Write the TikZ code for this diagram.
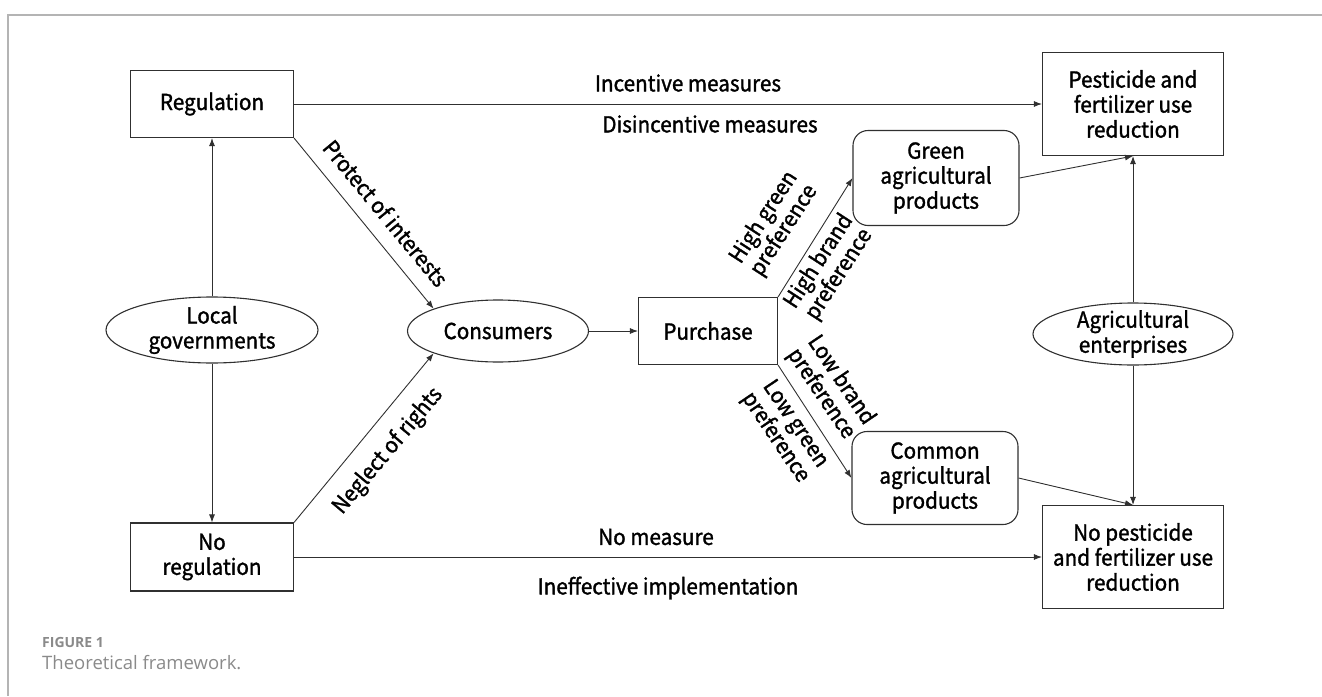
\documentclass[tikz,border=0pt]{standalone}
\usepackage{fontspec}
\setmainfont{Noto Sans CJK SC}[FakeBold=1.4, FakeStretch=0.94]
\newfontfamily\capfont{Open Sans}
\usetikzlibrary{arrows.meta,shapes.geometric}
\definecolor{inkline}{HTML}{303030}
\definecolor{framegray}{HTML}{B4B4B4}
\definecolor{capgray}{HTML}{8A8A8A}
\begin{document}
\begin{tikzpicture}[x=1pt,y=-1pt,
  every node/.style={font=\fontsize{22}{25}\selectfont, align=center, inner sep=0pt, text=black},
  box/.style={draw=inkline, line width=1.1pt, rectangle},
  rbox/.style={draw=inkline, line width=1.1pt, rectangle, rounded corners=15pt},
  oval/.style={draw=inkline, line width=1.1pt, ellipse, inner sep=-3pt},
  flow/.style={draw=inkline, line width=0.9pt, -{Latex[length=8pt,width=6pt]}},
  lbl/.style={font=\fontsize{22}{24}\selectfont},
  captionline/.style={anchor=west, align=left, text=capgray}
]
\useasboundingbox (0,0) rectangle (1322,696);

% page frame
\draw[framegray, line width=1.6pt] (1322,15) -- (8,15) -- (8,696);

% government side
\node[box, minimum width=163pt, minimum height=67pt] (reg) at (212,104) {Regulation};
\node[box, minimum width=163pt, minimum height=68pt] (noreg) at (212,557) {No\\regulation};
\node[oval, minimum width=212pt, minimum height=66pt] (lg) at (212,330) {Local\\governments};

% consumer side
\node[oval, minimum width=181pt, minimum height=62pt] (cons) at (498,331) {Consumers};
\node[box, minimum width=139pt, minimum height=67pt] (purch) at (708,331) {Purchase};
\node[rbox, minimum width=166pt, minimum height=95pt] (green) at (936,178) {Green\\agricultural\\products};
\node[rbox, minimum width=166pt, minimum height=93pt] (common) at (935,478) {Common\\agricultural\\products};

% outcomes
\node[box, minimum width=181pt, minimum height=103pt] (pest) at (1133,104) {Pesticide and\\fertilizer use\\reduction};
\node[box, minimum width=181pt, minimum height=103pt] (nopest) at (1133,557) {No pesticide\\and fertilizer use\\reduction};
\node[oval, minimum width=200pt, minimum height=62pt] (agent) at (1133,334) {Agricultural\\enterprises};

% connectors
\draw[flow] (lg.north) -- (reg.south);
\draw[flow] (lg.south) -- (noreg.north);
\draw[flow] (reg.east) -- (pest.west);
\draw[flow] (noreg.east) -- (nopest.west);
\draw[flow] (reg.south east) -- (cons.north west);
\draw[flow] (noreg.north east) -- (cons.south west);
\draw[flow] (cons.east) -- (purch.west);
\draw[flow] (purch.north east) -- (green.west);
\draw[flow] (purch.south east) -- (common.west);
\draw[flow] (green.east) -- (pest.south);
\draw[flow] (common.east) -- (nopest.north);
\draw[flow] (agent.north) -- (pest.south);
\draw[flow] (agent.south) -- (nopest.north);

% connector labels
\node (tinc) at (688,83) {Incentive measures};
\node (tdis) at (710,124) {Disincentive measures};
\node (tnom) at (656,537) {No measure};
\node (tine) at (668,588) {Ineffective implementation};
\node[rotate=-50.5] (tpro) at (386,213) {Protect of interests};
\node[rotate=50] (tneg) at (388,451) {Neglect of rights};
\node[lbl, rotate=57] (thg) at (774,224) {High green\\preference};
\node[lbl, rotate=57] (thb) at (829,268) {High brand\\preference};
\node[lbl, rotate=-56] (tlb) at (831,387) {Low brand\\preference};
\node[lbl, rotate=-56] (tlg) at (785,431) {Low green\\preference};

% caption
\node[captionline] (capnum) at (42,642) {\capfont\bfseries\fontsize{14}{16}\selectfont FIGURE 1};
\node[captionline] (captxt) at (42,663) {\capfont\fontsize{18.5}{22}\selectfont Theoretical framework.};
\end{tikzpicture}
\end{document}
